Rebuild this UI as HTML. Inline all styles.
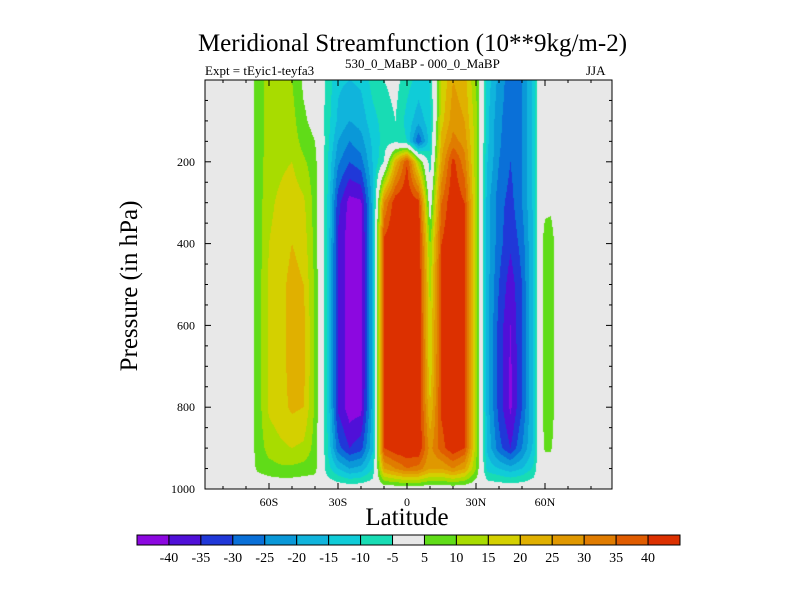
<!DOCTYPE html>
<html><head><meta charset="utf-8"><style>
body{margin:0;background:#fff;width:800px;height:600px;overflow:hidden;font-family:"Liberation Serif",serif}
#wrap{position:relative;width:800px;height:600px}
.t{position:absolute;white-space:nowrap;color:#000}
</style></head><body>
<div id="wrap">
<div class="t" style="left:0;width:825px;text-align:center;top:30px;font-size:25px">Meridional Streamfunction (10**9kg/m-2)</div>
<div class="t" style="left:205px;top:63px;font-size:13px">Expt = tEyic1-teyfa3</div>
<div class="t" style="left:345px;top:56px;font-size:13px">530_0_MaBP - 000_0_MaBP</div>
<div class="t" style="left:586px;top:63px;font-size:13px">JJA</div>
<div class="t" style="left:130px;top:286px;font-size:25px;transform:translate(-50%,-50%) rotate(-90deg)">Pressure (in hPa)</div>
<div class="t" style="left:0;width:814px;text-align:center;top:504px;font-size:25px">Latitude</div>
<canvas id="cv" width="407" height="409" style="position:absolute;left:205px;top:80px"></canvas>
<svg id="sv" width="800" height="600" style="position:absolute;left:0;top:0"></svg>
</div>
<script>
const lats=[-90,-85,-80,-75,-70,-65,-60,-55,-50,-45,-40,-35,-30,-25,-20,-15,-10,-5,0,5,10,15,20,25,30,35,40,45,50,55,57.5,60,62.5,65,70,75,80,85,90];
const levels=[0,100,150,200,300,400,500,600,700,800,900,950,1000];
const Z=[0,0,0,0,0,0,0,0,0,0,0,0,0];
const values=[
Z,Z,Z,Z,Z,
[7,7,7,7,7,7,7,7,7,7,7,6,0],
[12,12,12,13,14,15,16,16,16,16,12,8,0],
[12,12,13,14,16,17,18,18,18,18,14,9,0],
[10,12,13,15,18,20,22,22,22,21,15,9,0],
[4,6,8,11,16,18,20,22,22,20,14,8,0],
[2,3,5,7,8,8,9,9,9,9,8,7,0],
[-6,-7,-7,-8,-8,-8,-8,-8,-8,-8,-8,-7,0],
[-14,-16,-20,-24,-33,-36,-36,-36,-36,-36,-28,-15,0],
[-15,-20,-25,-30,-42,-43,-43,-43,-43,-43,-35,-20,0],
[-14,-18,-22,-27,-41,-43,-43,-43,-43,-42,-32,-18,0],
[-8,-12,-14,-15,-18,-18,-18,-18,-18,-18,-16,-10,0],
[-5,-8,-8,-5,30,42,42,42,42,42,40,25,0],
[-3,-5,-6,22,44,46,46,46,46,46,44,30,0],
[-8,-12,-10,40,45,46,46,46,46,46,45,35,0],
[-12,-18,-30,12,42,46,46,46,46,46,45,33,0],
[-10,-12,-12,-8,0,9,13,15,16,20,28,25,0],
[15,18,22,25,35,40,41,41,41,41,38,25,0],
[25,28,32,42,45,46,46,46,46,46,44,30,0],
[22,25,28,32,40,42,42,42,42,42,40,25,0],
[10,12,12,12,12,12,12,12,12,12,12,10,0],
[-12,-14,-14,-15,-18,-18,-18,-18,-18,-18,-16,-12,0],
[-22,-24,-24,-25,-28,-28,-30,-32,-32,-32,-28,-15,0],
[-28,-28,-29,-30,-32,-34,-38,-40,-41,-41,-35,-18,0],
[-25,-25,-25,-25,-25,-28,-30,-30,-30,-30,-25,-15,0],
[-14,-14,-14,-14,-14,-14,-14,-14,-14,-14,-14,-9,0],
[0,0,0,0,0,0,0,0,0,0,0,0,0],
[0,0,0,0,3,8,8,8,8,8,6,0,0],
[0,0,0,0,3,9,9,9,9,9,6,0,0],
[0,0,0,0,1,2,2,2,2,2,1,0,0],
Z,Z,Z,Z,Z];
const binLabels=[-40,-35,-30,-25,-20,-15,-10,-5,5,10,15,20,25,30,35,40];
const xTickLabels=["60S","30S","0","30N","60N"];
const xTickLats=[-60,-30,0,30,60];
const yTickLabels=[200,400,600,800,1000];
const colors=["#8c08e0","#5010d8","#2038d8","#0a70d8","#0a98d8","#10b4dc","#10ccd8","#18dcb4","#e8e8e8","#60dc18","#a8dc00","#d4d000","#e0b000","#e09800","#e07c00","#e05c00","#dc3000"];
const PX0=205,PX1=612,PY0=80,PY1=489;
const xOf=l=>407+l*2.3, lOf=x=>(x-407)/2.3;
const yOf=p=>PY1-(1000-p)*0.409, pOf=y=>1000-(PY1-y)/0.409;
function idx(v){if(v<-5)return Math.max(0,Math.min(7,Math.floor((v+45)/5)));if(v<5)return 8;return Math.min(16,9+Math.floor((v-5)/5));}
function find(a,v){for(let i=0;i<a.length-1;i++)if(v<=a[i+1])return i;return a.length-2;}
function interp(l,p){p=Math.max(0,Math.min(1000,p));const i=find(lats,l),j=find(levels,p);
const tx=(l-lats[i])/(lats[i+1]-lats[i]),ty=(p-levels[j])/(levels[j+1]-levels[j]);
const a=values[i][j],b=values[i+1][j],c=values[i][j+1],d=values[i+1][j+1];
return a*(1-tx)*(1-ty)+b*tx*(1-ty)+c*(1-tx)*ty+d*tx*ty;}
const cv=document.getElementById('cv'),ctx=cv.getContext('2d');
const rgb=colors.map(c=>[parseInt(c.slice(1,3),16),parseInt(c.slice(3,5),16),parseInt(c.slice(5,7),16)]);
const img=ctx.createImageData(407,409);
for(let y=0;y<409;y++)for(let x=0;x<407;x++){const v=interp(lOf(PX0+x+0.5),pOf(PY0+y+0.5));const c=rgb[idx(v)];const k=(y*407+x)*4;img.data[k]=c[0];img.data[k+1]=c[1];img.data[k+2]=c[2];img.data[k+3]=255;}
ctx.putImageData(img,0,0);
const sv=document.getElementById('sv'),NS='http://www.w3.org/2000/svg';
function mk(t,a,txt){const e=document.createElementNS(NS,t);for(const k in a)e.setAttribute(k,a[k]);if(txt!==undefined)e.textContent=txt;sv.appendChild(e);return e;}
let e=mk('rect',{x:PX0,y:PY0,width:PX1-PX0,height:PY1-PY0,fill:'none',stroke:'#000','stroke-width':1});


for(let l=-80;l<=80;l+=10){const maj=l%30===0,len=maj?6:3,x=xOf(l);
e=mk('line',{x1:x,x2:x,y1:PY1,y2:PY1-len,stroke:'#000'});


mk('line',{x1:x,x2:x,y1:PY0,y2:PY0+len,stroke:'#000'});}
xTickLabels.forEach((s,i)=>{e=mk('text',{x:xOf(xTickLats[i]),y:PY1+17,'font-size':12,'text-anchor':'middle','font-family':'Liberation Serif'},s);

});
for(let p=50;p<1000;p+=50){const maj=p%200===0,len=maj?6:3,y=yOf(p);
e=mk('line',{x1:PX0,x2:PX0+len,y1:y,y2:y,stroke:'#000'});


mk('line',{x1:PX1,x2:PX1-len,y1:y,y2:y,stroke:'#000'});}
yTickLabels.forEach(p=>{e=mk('text',{x:PX0-10,y:yOf(p)+4,'font-size':12,'text-anchor':'end','font-family':'Liberation Serif'},String(p));

});
const CB0=137,CB1=680,bw=(CB1-CB0)/colors.length;
colors.forEach((c,i)=>{e=mk('rect',{x:CB0+i*bw,y:535,width:bw,height:10,fill:c,stroke:'#000','stroke-width':1});

});
binLabels.forEach((v,i)=>{e=mk('text',{x:CB0+(i+1)*bw,y:562,'font-size':14,'text-anchor':'middle','font-family':'Liberation Serif'},String(v));

});
</script>
</body></html>
